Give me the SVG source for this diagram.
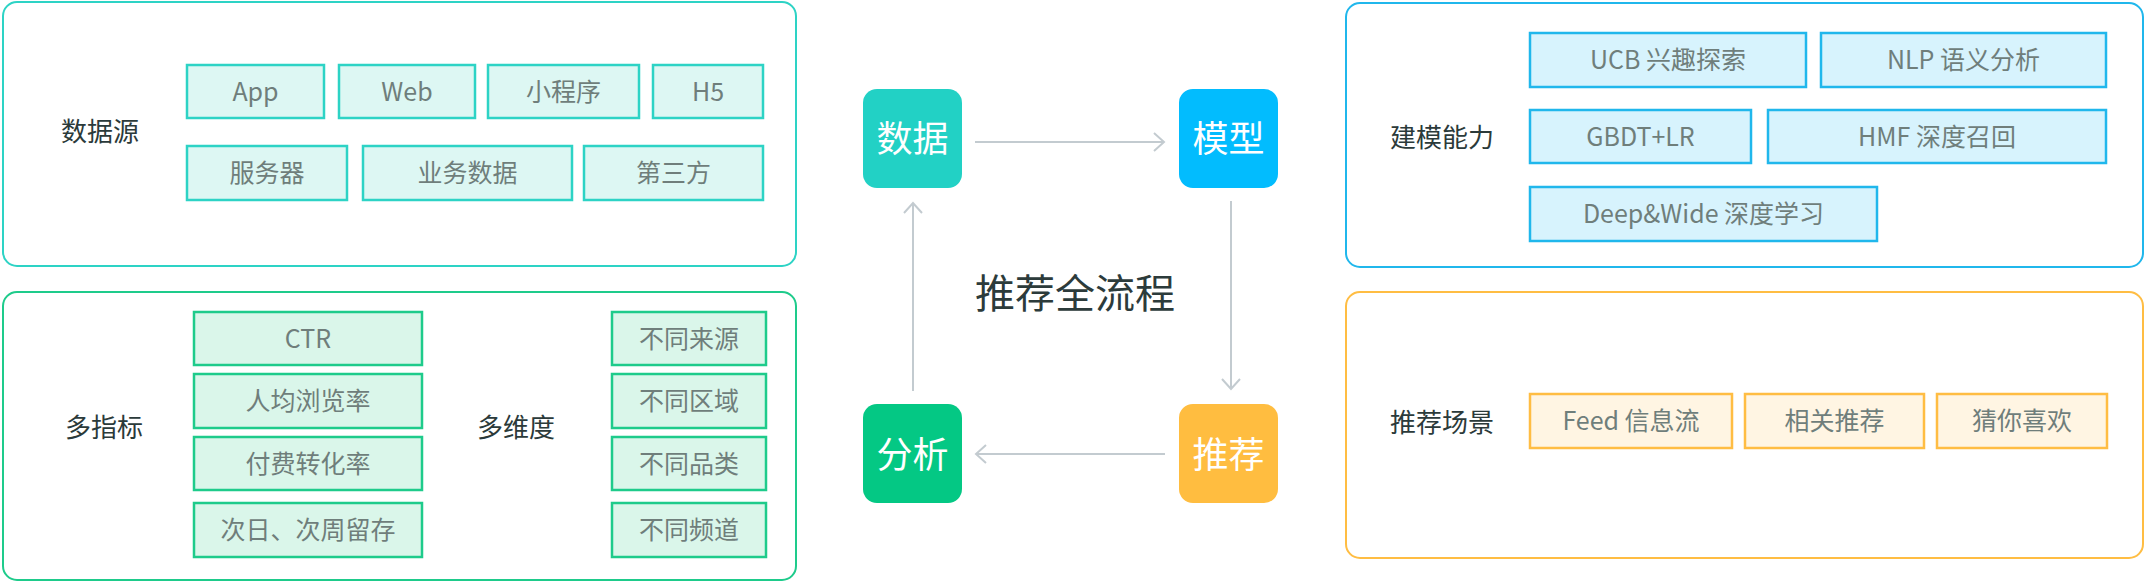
<svg xmlns="http://www.w3.org/2000/svg" width="2146" height="582" viewBox="0 0 2146 582">
<defs>
<style>
text{font-family:"Noto Sans CJK SC","Noto Sans",sans-serif;text-anchor:middle;dominant-baseline:central;}
.panel{fill:#ffffff;stroke-width:2;}
.item{stroke-width:2.5;}
.it{font-size:25px;fill:#6f7e7b;}
.lab{font-size:26px;fill:#2b3a3a;}
.t1 .panel,.t1 .item{stroke:#2dd3c5;}
.t1 .item{fill:#ddf7f3;}
.g1 .panel,.g1 .item{stroke:#1ecb8b;}
.g1 .item{fill:#daf6ea;}
.b1 .panel,.b1 .item{stroke:#20b7ec;}
.b1 .item{fill:#d7f3fd;}
.o1 .panel,.o1 .item{stroke:#ffbd43;}
.o1 .item{fill:#fff5e3;}
.node text{font-size:36px;fill:#ffffff;}
.conn{stroke:#c3cbd0;stroke-width:2;fill:none;}
</style>
<marker id="arr" markerUnits="userSpaceOnUse" markerWidth="16" markerHeight="24" viewBox="0 0 16 24" refX="13" refY="12" orient="auto">
<path d="M3,3 L13,12 L3,21" fill="none" stroke="#c3cbd0" stroke-width="2"/>
</marker>
</defs>
<rect width="2146" height="582" fill="#ffffff"/>

<g id="datasource" class="t1">
<rect class="panel" x="3" y="2" width="793" height="264" rx="14"/>
<text class="lab" x="100" y="129">数据源</text>
<rect class="item" x="187" y="65" width="137" height="53"/><text class="it" x="255.5" y="89.5">App</text>
<rect class="item" x="339" y="65" width="136" height="53"/><text class="it" x="407" y="89.5">Web</text>
<rect class="item" x="488" y="65" width="151" height="53"/><text class="it" x="563.5" y="89.5">小程序</text>
<rect class="item" x="653" y="65" width="110" height="53"/><text class="it" x="708" y="89.5">H5</text>
<rect class="item" x="187" y="146" width="160" height="54"/><text class="it" x="267" y="171">服务器</text>
<rect class="item" x="363" y="146" width="209" height="54"/><text class="it" x="467.5" y="171">业务数据</text>
<rect class="item" x="584" y="146" width="179" height="54"/><text class="it" x="673.5" y="171">第三方</text>
</g>

<g id="metrics" class="g1">
<rect class="panel" x="3" y="292" width="793" height="288" rx="14"/>
<text class="lab" x="104" y="425">多指标</text>
<text class="lab" x="516" y="425">多维度</text>
<rect class="item" x="194" y="312" width="228" height="53"/><text class="it" x="308" y="336.5">CTR</text>
<rect class="item" x="194" y="374" width="228" height="54"/><text class="it" x="308" y="399">人均浏览率</text>
<rect class="item" x="194" y="437" width="228" height="53"/><text class="it" x="308" y="461.5">付费转化率</text>
<rect class="item" x="194" y="503" width="228" height="54"/><text class="it" x="308" y="528">次日、次周留存</text>
<rect class="item" x="612" y="312" width="154" height="53"/><text class="it" x="689" y="336.5">不同来源</text>
<rect class="item" x="612" y="374" width="154" height="54"/><text class="it" x="689" y="399">不同区域</text>
<rect class="item" x="612" y="437" width="154" height="53"/><text class="it" x="689" y="461.5">不同品类</text>
<rect class="item" x="612" y="503" width="154" height="54"/><text class="it" x="689" y="528">不同频道</text>
</g>

<g id="modeling" class="b1">
<rect class="panel" x="1346" y="3" width="797" height="264" rx="14"/>
<text class="lab" x="1442" y="135">建模能力</text>
<rect class="item" x="1530" y="33" width="276" height="54"/><text class="it" x="1668" y="58">UCB 兴趣探索</text>
<rect class="item" x="1821" y="33" width="285" height="54"/><text class="it" x="1963.5" y="58">NLP 语义分析</text>
<rect class="item" x="1530" y="110" width="221" height="53"/><text class="it" x="1640.5" y="134.5">GBDT+LR</text>
<rect class="item" x="1768" y="110" width="338" height="53"/><text class="it" x="1937" y="134.5">HMF 深度召回</text>
<rect class="item" x="1530" y="187" width="347" height="54"/><text class="it" x="1703.5" y="212">Deep&amp;Wide 深度学习</text>
</g>

<g id="scenes" class="o1">
<rect class="panel" x="1346" y="292" width="797" height="266" rx="14"/>
<text class="lab" x="1442" y="420">推荐场景</text>
<rect class="item" x="1530" y="394" width="202" height="54"/><text class="it" x="1631" y="419">Feed 信息流</text>
<rect class="item" x="1745" y="394" width="179" height="54"/><text class="it" x="1834.5" y="419">相关推荐</text>
<rect class="item" x="1937" y="394" width="170" height="54"/><text class="it" x="2022" y="419">猜你喜欢</text>
</g>

<g id="connectors">
<line class="conn" x1="975" y1="142" x2="1164" y2="142" marker-end="url(#arr)"/>
<line class="conn" x1="1231" y1="201" x2="1231" y2="389" marker-end="url(#arr)"/>
<line class="conn" x1="1165" y1="454" x2="976" y2="454" marker-end="url(#arr)"/>
<line class="conn" x1="913" y1="391" x2="913" y2="203" marker-end="url(#arr)"/>
</g>

<g id="node-data" class="node">
<rect x="863" y="89" width="99" height="99" rx="14" fill="#22d1c5"/>
<text x="912.5" y="136">数据</text>
</g>
<g id="node-model" class="node">
<rect x="1179" y="89" width="99" height="99" rx="14" fill="#02bcfe"/>
<text x="1228.5" y="136">模型</text>
</g>
<g id="node-recommend" class="node">
<rect x="1179" y="404" width="99" height="99" rx="14" fill="#ffbd40"/>
<text x="1228.5" y="452">推荐</text>
</g>
<g id="node-analysis" class="node">
<rect x="863" y="404" width="99" height="99" rx="14" fill="#04c884"/>
<text x="912.5" y="452">分析</text>
</g>

<g id="title">
<text x="1075" y="291" style="font-size:40px;fill:#2c3b3b;">推荐全流程</text>
</g>
</svg>
